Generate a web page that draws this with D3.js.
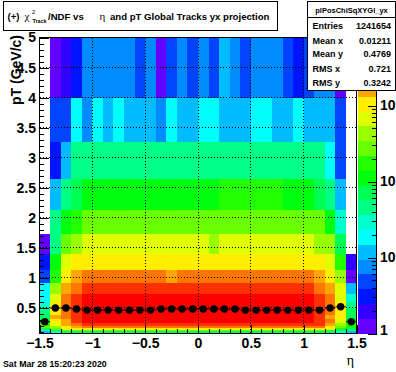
<!DOCTYPE html>
<html><head><meta charset="utf-8">
<script src="https://cdn.jsdelivr.net/npm/d3@7"></script>
<style>html,body{margin:0;padding:0;background:#fff;} svg{display:block;}</style>
</head><body>
<svg id="c" width="396" height="372"></svg>
<script>
// ---------------- data ----------------
const etaEdges = [-1.5,-1.4,-1.3,-1.2,-1.1,-1.0,-0.9,-0.8,-0.7,-0.6,-0.5,-0.4,-0.3,-0.2,-0.1,0.0,
                  0.1,0.2,0.3,0.4,0.5,0.6,0.7,0.8,0.9,1.0,1.1,1.2,1.3,1.4,1.5];
const ptEdges = [0.07,0.086,0.106,0.132,0.163,0.202,0.25,0.31,0.384,0.476,0.589,0.73,0.904,1.12,1.387,1.72,2.13,2.635,3.26,4.0,5.0];

// bin contents, one array per pT bin (low pT first), 30 eta bins each
const pt00 = [5,8,12,12,11,13,12,12,13,11,12,12,13,12,11,12,13,12,12,11,12,13,12,12,11,12,13,11,8,5];
const pt01 = [12,29,70,72,75,70,74,78,73,71,76,74,72,77,75,73,74,76,72,75,78,73,71,74,76,72,70,46,30,12];
const pt02 = [28,72,270,280,290,285,295,300,288,292,296,284,290,298,294,286,291,297,289,293,299,287,282,290,295,284,276,180,70,44];
const pt03 = [70,280,680,1020,1080,1100,1120,1110,1090,1130,1105,1095,1115,1125,1100,1085,1110,1120,1095,1105,1130,1115,1090,1100,1080,1060,1010,700,175,68];
const pt04 = [270,430,1050,1650,2500,2600,2650,2700,2680,2720,2650,2700,2690,2710,2660,2700,2680,2720,2700,2650,2690,2710,2680,2640,2600,2550,2450,1100,280,110];
const pt05 = [175,660,1600,2600,4100,4300,4400,4450,4420,4480,4400,4460,4430,4470,4410,4450,4440,4480,4460,4400,4430,4470,4420,4380,4300,4150,3700,1700,420,170];
const pt06 = [72,1050,1700,3900,5500,5800,5900,5950,5920,5980,5900,5960,5930,5970,5910,5950,5940,5980,5960,5900,5930,5970,5920,5880,5800,5600,4300,2500,650,115];
const pt07 = [68,1600,2550,4300,6300,6600,6750,6800,6780,6820,6750,6800,6790,6810,6760,6800,6780,6820,6800,6750,6790,6810,6780,6740,6650,6400,4600,1900,1080,75];
const pt08 = [45,1150,2700,4500,7000,7300,7450,7500,7480,7520,7450,7500,7490,7510,7460,7500,7480,7520,7500,7450,7490,7510,7480,7440,7350,7100,4700,2300,1000,65];
const pt09 = [30,1000,2600,4400,7100,7500,7650,7700,7680,7720,7650,7700,7690,7850,7660,7700,7680,7720,7700,7650,7690,7710,7680,7640,7550,7200,4500,2400,950,48];
const pt10 = [18,700,2300,3900,5800,6100,6250,6300,6280,6320,6250,6300,6290,6310,6260,6300,6280,6320,6300,6250,6290,6310,6280,6240,6150,5900,3800,2200,720,30];
const pt11 = [17,440,1700,2700,3900,4100,4200,4250,4220,4280,4200,4260,4230,4270,4210,4250,4240,4280,4260,4200,4230,4270,4220,4180,4100,3950,2800,1500,600,12];
const pt12 = [5,180,1100,1800,2400,2550,2600,2650,2620,2680,2600,2640,1900,2620,2660,2600,2650,2630,2670,2610,2640,2600,2580,2550,2500,2350,1800,1150,400,1];
const pt13 = [3,110,700,1050,1150,1200,1220,1210,1230,1200,1220,1210,1230,1205,1220,1215,1235,1220,1200,1210,1230,1215,1190,1170,1150,1120,1080,750,190,2];
const pt14 = [1,46,300,470,700,740,760,750,770,760,745,765,755,770,750,760,500,760,750,770,755,765,745,740,720,690,480,450,70,0];
const pt15 = [0,44,120,200,290,300,310,305,315,300,310,305,312,300,308,302,310,305,300,312,306,300,295,285,275,262,250,125,30,0];
const pt16 = [0,12,46,75,115,120,125,122,128,124,130,126,121,127,132,129,134,148,155,150,158,152,146,135,128,118,80,44,12,0];
const pt17 = [0,3,12,44,47,48,46,49,47,48,50,47,46,49,48,47,50,48,46,49,47,48,46,47,45,44,42,19,5,0];
const pt18 = [0,5,5,18,8,17,12,18,12,13,12,8,17,12,11,18,17,13,12,12,18,19,12,13,17,12,12,11,5,0];
const pt19 = [0,1,2,3,8,8,8,7,8,5,8,1,5,8,5,8,5,11,8,5,8,7,8,5,3,5,8,7,1,0];
const counts = [pt00,pt01,pt02,pt03,pt04,pt05,pt06,pt07,pt08,pt09,pt10,pt11,pt12,pt13,pt14,pt15,pt16,pt17,pt18,pt19];

// profile: mean pT per eta bin
const profileMean = [0.266,0.494,0.494,0.477,0.46,0.46,0.46,0.46,0.46,0.46,0.46,0.477,0.477,0.477,0.477,
                     0.477,0.477,0.477,0.477,0.46,0.46,0.46,0.46,0.46,0.46,0.46,0.46,0.494,0.515,0.266];

const xMajorTicks = [-1.5,-1,-0.5,0,0.5,1,1.5];
const yMajorTicks = [0.5,1,1.5,2,2.5,3,3.5,4,4.5,5];
const zMajorTicks = [1,10,100,1000];
const zLabels     = ["1","10","10","10"];
const statLabels = ["Entries","Mean x","Mean y","RMS x","RMS y"];
const statValues = ["1241654","0.01211","0.4769","0.721","0.3242"];

// ---------------- drawing ----------------
const svg = d3.select('#c');
const F = {x0:39.5, x1:356.5, y0:37.5, y1:333.5};
const x = d3.scaleLinear().domain([etaEdges[0], etaEdges[etaEdges.length-1]]).range([F.x0, F.x1]);
const y = d3.scaleLinear().domain([ptEdges[0], ptEdges[ptEdges.length-1]]).range([F.y1, F.y0]);

const pretty = d3.range(50).map(i => d3.hsl(280 - (i+1)*5.6, 1, 0.5).formatHex());
const nLev = 20;
const levelColors = d3.range(nLev).map(k => pretty[Math.floor((k+0.99)*50/nLev)]);
const zMax = d3.max(counts.flat());
const zLog = d3.scaleLog().domain([1, zMax]).range([F.y1, F.y0]);
const colorQ = d3.scaleQuantize().domain([0, Math.log10(zMax)]).range(levelColors);

const font = "'Liberation Sans', Arial, Helvetica, sans-serif";
const serif = "'Liberation Serif', 'DejaVu Serif', serif";

// cells
const gCells = svg.append('g').attr('shape-rendering','crispEdges');
counts.forEach((row, r) => row.forEach((v, c) => {
  if (!v) return;
  gCells.append('rect')
    .attr('x', x(etaEdges[c])).attr('width', x(etaEdges[c+1]) - x(etaEdges[c]))
    .attr('y', y(ptEdges[r+1])).attr('height', y(ptEdges[r]) - y(ptEdges[r+1]))
    .attr('fill', colorQ(Math.log10(v)));
}));

// grid
const hp = v => Math.round(v - 0.5) + 0.5;
const grid = svg.append('g').attr('stroke','#000').attr('stroke-width',1).attr('stroke-dasharray','1,2').attr('shape-rendering','crispEdges');
xMajorTicks.slice(1,-1).forEach(v => grid.append('line').attr('x1',hp(x(v))).attr('x2',hp(x(v))).attr('y1',F.y0).attr('y2',F.y1));
yMajorTicks.slice(0,-1).forEach(v => grid.append('line').attr('y1',hp(y(v))).attr('y2',hp(y(v))).attr('x1',F.x0).attr('x2',F.x1));

// profile
const gProf = svg.append('g');
profileMean.forEach((m, c) => {
  gProf.append('line').attr('x1', x(etaEdges[c])).attr('x2', x(etaEdges[c+1]))
    .attr('y1', y(m)).attr('y2', y(m)).attr('stroke','#000').attr('stroke-width',1);
});
profileMean.forEach((m, c) => {
  gProf.append('circle').attr('cx', (x(etaEdges[c]) + x(etaEdges[c+1]))/2).attr('cy', y(m)).attr('r', 3.7).attr('fill','#000');
});

// frame
svg.append('rect').attr('x',F.x0).attr('y',F.y0).attr('width',F.x1-F.x0).attr('height',F.y1-F.y0)
  .attr('fill','none').attr('stroke','#000').attr('stroke-width',1).attr('shape-rendering','crispEdges');

function styleAxis(g){
  g.select('.domain').remove();
  g.selectAll('line').attr('stroke','#000').attr('shape-rendering','crispEdges');
  g.selectAll('text').attr('font-family',font).attr('font-weight','bold').attr('font-size',14).attr('fill','#000');
}
const yMinor = d3.range(1,50).map(i => i/10).filter(v => v > ptEdges[0] && Math.abs(v*2 - Math.round(v*2)) > 1e-6);
const xMinor = d3.range(-14,15).map(i => i/10).filter(v => Math.abs(v*2 - Math.round(v*2)) > 1e-6);

svg.append('g').attr('transform',`translate(${F.x0},0)`)
  .call(d3.axisLeft(y).tickValues(yMajorTicks).tickSizeInner(-9.5).tickSizeOuter(0).tickPadding(3.5).tickFormat(d3.format('')))
  .call(styleAxis);
svg.append('g').attr('transform',`translate(${F.x0},0)`)
  .call(d3.axisLeft(y).tickValues(yMinor).tickSizeInner(-4.75).tickSizeOuter(0).tickFormat(''))
  .call(styleAxis);
svg.append('g').attr('transform',`translate(0,${F.y1})`)
  .call(d3.axisBottom(x).tickValues(xMajorTicks).tickSizeInner(-9).tickSizeOuter(0).tickPadding(5).tickFormat(d3.format('')))
  .call(styleAxis);
svg.append('g').attr('transform',`translate(0,${F.y1})`)
  .call(d3.axisBottom(x).tickValues(xMinor).tickSizeInner(-4.5).tickSizeOuter(0).tickFormat(''))
  .call(styleAxis);

// axis titles
svg.append('text').attr('transform','translate(21,35) rotate(-90)').attr('text-anchor','end')
  .attr('font-family',font).attr('font-weight','bold').attr('font-size',14).text('pT (GeV/c)');
svg.append('text').attr('x',354).attr('y',365).attr('text-anchor','end')
  .attr('font-family',serif).attr('font-size',14).text('η');

// palette
const PB = {x0:357.5, x1:376.5};
const band = Math.log10(zMax)/nLev;
const gPal = svg.append('g').attr('shape-rendering','crispEdges');
levelColors.forEach((col, k) => {
  const lo = zLog(Math.pow(10, k*band)), hi = zLog(Math.pow(10, (k+1)*band));
  gPal.append('rect').attr('x',PB.x0).attr('width',PB.x1-PB.x0).attr('y',hi).attr('height',lo-hi).attr('fill',col);
});
const zMinor = [];
[1,10,100,1000].forEach(d => [2,3,4,5,6,7,8,9].forEach(m => { if (d*m < zMax) zMinor.push(d*m); }));
svg.append('g').attr('transform',`translate(${PB.x1},0)`)
  .call(d3.axisRight(zLog).tickValues(zMinor).tickSizeInner(-4.5).tickSizeOuter(0).tickFormat(''))
  .call(styleAxis);
const zAx = svg.append('g').attr('transform',`translate(${PB.x1},0)`)
  .call(d3.axisRight(zLog).tickValues(zMajorTicks).tickSizeInner(-8.5).tickSizeOuter(0).tickPadding(3.5)
        .tickFormat((d, i) => zLabels[i]))
  .call(styleAxis);
zAx.selectAll('.tick text').filter(d => d === 1).attr('dy','0.05em');
svg.append('line').attr('x1',PB.x1).attr('x2',PB.x1).attr('y1',F.y0).attr('y2',F.y1)
  .attr('stroke','#000').attr('shape-rendering','crispEdges');

// title box
svg.append('rect').attr('x',3.5).attr('y',1.5).attr('width',274).attr('height',29)
  .attr('fill','#fff').attr('stroke','#000').attr('shape-rendering','crispEdges');
const tb = (txt, xx, yy, size, fam, weight) => svg.append('text').attr('x',xx).attr('y',yy)
  .attr('font-family',fam).attr('font-weight',weight).attr('font-size',size).text(txt);
tb('(+)', 7.5, 19.5, 9.6, font, 'bold');
tb('χ', 24.5, 19.5, 11, serif, 'normal');
tb('2', 32, 13.5, 6, font, 'normal');
tb('Track', 32.5, 22.5, 5.3, font, 'bold');
tb('/NDF vs', 48, 19.5, 9.6, font, 'bold');
tb('η', 99.5, 19.5, 11, serif, 'normal');
tb('and pT Global Tracks yx projection', 110, 19.5, 9.6, font, 'bold');

// stats box
svg.append('rect').attr('x',307.5).attr('y',1.5).attr('width',88).attr('height',89)
  .attr('fill','#fff').attr('stroke','#000').attr('shape-rendering','crispEdges');
svg.append('line').attr('x1',307.5).attr('x2',395.5).attr('y1',17.5).attr('y2',17.5)
  .attr('stroke','#000').attr('shape-rendering','crispEdges');
svg.append('text').attr('x',351.5).attr('y',12.5).attr('text-anchor','middle')
  .attr('font-family',font).attr('font-weight','bold').attr('font-size',7.5).text('plPosChiSqXYGl_yx');
const rowY = [28.5, 43.5, 57, 72, 86];
statLabels.forEach((l, i) => {
  svg.append('text').attr('x',312.5).attr('y',rowY[i]).attr('font-family',font).attr('font-weight','bold').attr('font-size',9).text(l);
  svg.append('text').attr('x',391).attr('y',rowY[i]).attr('text-anchor','end').attr('font-family',font).attr('font-weight','bold').attr('font-size',9).text(statValues[i]);
});

// date
svg.append('text').attr('x',3).attr('y',367).attr('font-family',font).attr('font-weight','bold').attr('font-size',8.8)
  .text('Sat Mar 28 15:20:23 2020');
</script>
</body></html>
